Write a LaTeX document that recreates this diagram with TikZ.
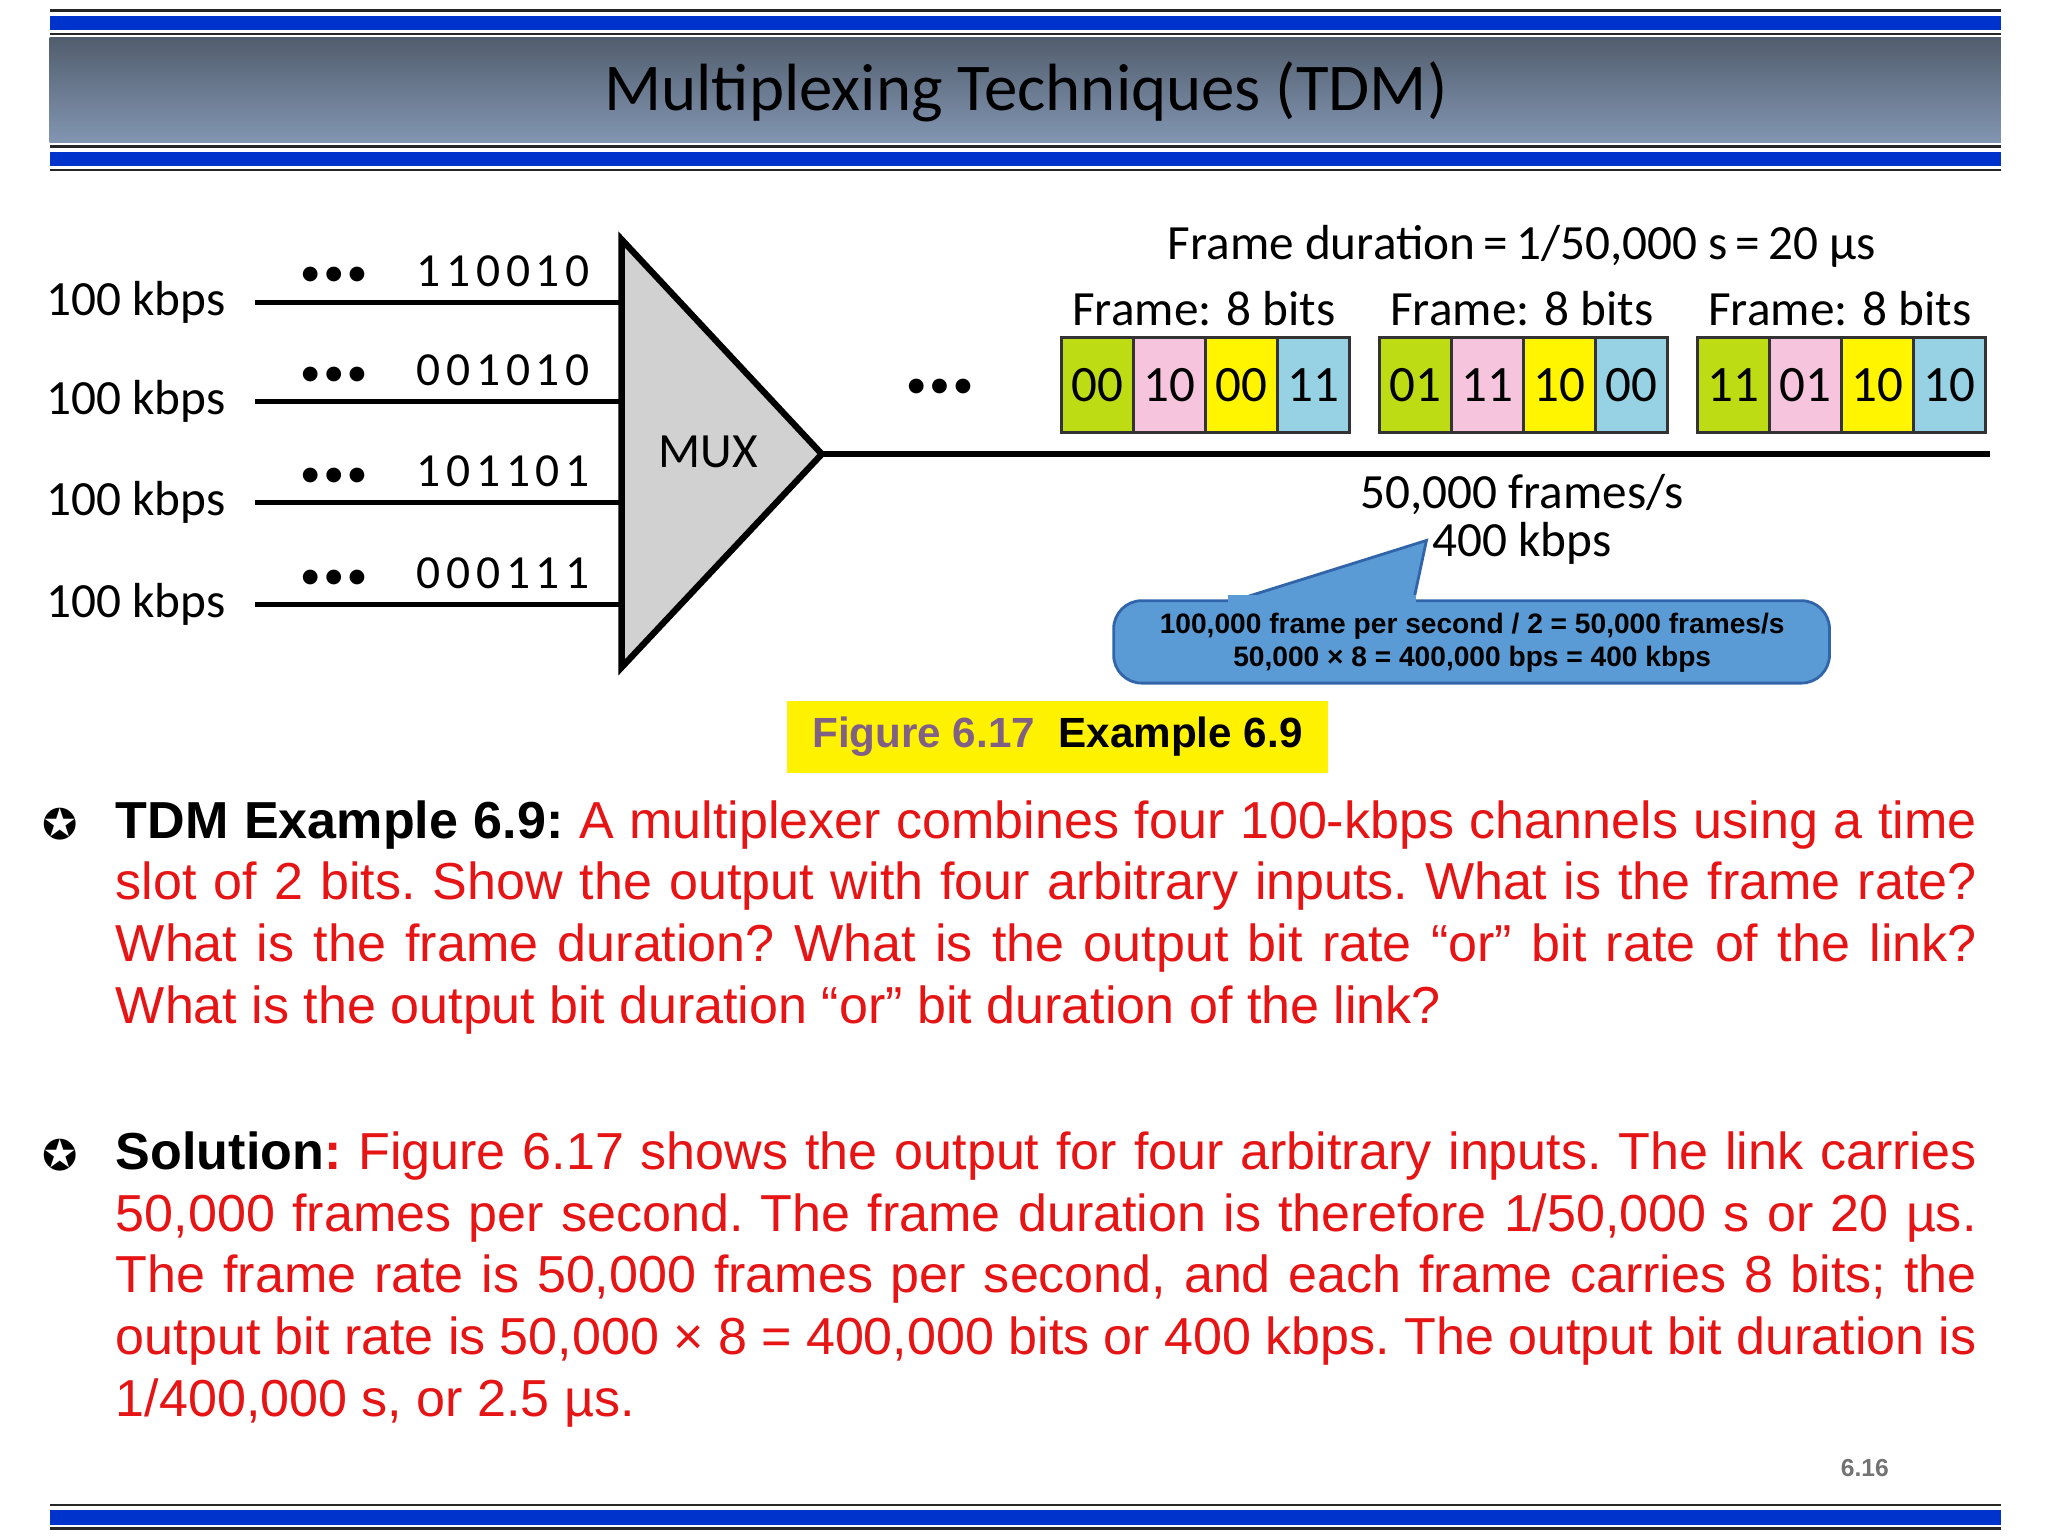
\documentclass[tikz,border=0pt]{standalone}
\usepackage{fontspec}
\setmainfont{Liberation Sans}
\newfontfamily\titlefont{Carlito}
\newfontfamily\figfont{Carlito}
\newfontfamily\bitfont[LetterSpace=12]{Carlito}
\newfontfamily\symfont{DejaVu Sans}
\definecolor{barblue}{RGB}{0,51,204}
\definecolor{gtop}{RGB}{82,94,110}
\definecolor{gbot}{RGB}{130,150,178}
\definecolor{cgreen}{RGB}{190,220,20}
\definecolor{cpink}{RGB}{246,196,220}
\definecolor{cyel}{RGB}{255,245,0}
\definecolor{ccyan}{RGB}{150,210,228}
\definecolor{callfill}{RGB}{91,155,213}
\definecolor{calldraw}{RGB}{50,100,170}
\definecolor{figpurple}{RGB}{128,96,132}
\definecolor{txtred}{RGB}{230,20,20}
\begin{document}
\begin{tikzpicture}[x=0.01308cm,y=-0.01308cm,
  lbl/.style={font=\figfont\fontsize{14}{16}\selectfont,inner sep=0},
  bits/.style={font=\bitfont\fontsize{13.5}{16}\selectfont,inner sep=0,anchor=west},
  dts/.style={font=\symfont\fontsize{5.5}{7}\selectfont,inner sep=0},
  cell/.style={draw=black!80,line width=0.9pt,minimum width=55*0.01308cm,minimum height=72*0.01308cm,inner sep=0,font=\figfont\fontsize{14.5}{16}\selectfont},
  inl/.style={line width=1.3pt}]
\useasboundingbox (0,0) rectangle (1565,1174);
\fill[white] (0,0) rectangle (1565,1174);
% header
\fill[black!85] (38,7) rectangle (1529,27);
\fill[white] (38,9) rectangle (1529,25);
\fill[barblue] (38,12) rectangle (1529,23);
\shade[top color=gtop,bottom color=gbot] (38,29) rectangle (1529,109);
\fill[black!85] (38,111) rectangle (1529,131);
\fill[white] (38,113) rectangle (1529,129);
\fill[barblue] (38,116) rectangle (1529,127);
\node[font=\titlefont\fontsize{19}{22}\selectfont,inner sep=0] (title) at (784,70) {Multiplexing Techniques (TDM)};
% footer
\fill[black!85] (38,1149) rectangle (1529,1169);
\fill[white] (38,1151) rectangle (1529,1167);
\fill[barblue] (38,1154) rectangle (1529,1165);
\node[font=\bfseries\fontsize{7}{8}\selectfont,text=black!55,inner sep=0] (pg) at (1425,1122) {6.16};
% mux
\coordinate (mt) at (475,183); \coordinate (mb) at (475,510); \coordinate (mo) at (628,347);
\filldraw[fill=black!18,draw=black,line width=1.8pt,line join=miter] (mt) -- (mo) -- (mb) -- cycle;
\node[lbl] (mux) at (541,345) {MUX};
\coordinate (oe) at (1521,347);
\draw[line width=1.8pt] (mo) -- (oe);
% inputs
\foreach \y/\b [count=\i] in {231/110010,307/001010,384/101101,462/000111}{
  \coordinate (s\i) at (195,\y); \coordinate (e\i) at (475,\y);
  \draw[inl] (s\i) -- (e\i);
  \node[lbl,anchor=east] (r\i) at (173,\y) {100 kbps};
  \node[dts] (d\i) at (255,\y-21) {●\,\,●\,\,●};
  \node[bits] (b\i) at (318,\y-24) {\b};
}
\node[dts] (odots) at (718,295) {●\,\,●\,\,●};
% frames
\node[lbl] (fd) at (1163,188) {Frame duration\,=\,1/50,000 s\,=\,20 µs};
\foreach \fx/\a/\b/\c/\d [count=\j] in {810/00/10/00/11,1053/01/11/10/00,1296/11/01/10/10}{
  \node[lbl] (fl\j) at (\fx+110,236) {Frame: 8 bits};
  \node[cell,fill=cgreen,anchor=north west] (c\j a) at (\fx,257) {\a};
  \node[cell,fill=cpink,anchor=north west] (c\j b) at (\fx+55,257) {\b};
  \node[cell,fill=cyel,anchor=north west] (c\j c) at (\fx+110,257) {\c};
  \node[cell,fill=ccyan,anchor=north west] (c\j d) at (\fx+165,257) {\d};
}
\node[lbl] (fps) at (1163,378) {50,000 frames/s};
\node[lbl] (kb) at (1163,415) {400 kbps};
% callout
\coordinate (tip) at (1090,413);
\filldraw[fill=callfill,draw=calldraw,line width=0.8pt,rounded corners=8] (851,459) rectangle (1398,522);
\filldraw[fill=callfill,draw=calldraw,line width=0.8pt] (940,460) -- (tip) -- (1080,460);
\fill[callfill] (938,455) rectangle (1082,464);
\node[align=center,font=\bfseries\fontsize{8}{9.3}\selectfont,inner sep=0] (call) at (1125,491) {100,000 frame per second / 2 = 50,000 frames/s\\50,000 × 8 = 400,000 bps = 400 kbps};
% figure label
\node[fill=yellow,minimum width=414*0.01308cm,minimum height=55*0.01308cm,inner sep=0,font=\bfseries\fontsize{12}{14}\selectfont] (fig) at (808,563) {\textcolor{figpurple}{Figure 6.17}\ \ Example 6.9};
% paragraphs
\node[font=\symfont\fontsize{12}{14}\selectfont,inner sep=0] (bul1) at (46,630) {✪};
\node[font=\symfont\fontsize{12}{14}\selectfont,inner sep=0] (bul2) at (46,883) {✪};
\node[anchor=north west,inner sep=0,text width=1422*0.01308cm,align=justify,font=\frenchspacing\fontsize{14.8}{17.6}\selectfont,text=txtred] (p1) at (88,611) {\textcolor{black}{\textbf{TDM Example 6.9:}} A multiplexer combines four 100-kbps channels using a time slot of 2 bits. Show the output with four arbitrary inputs. What is the frame rate? What is the frame duration? What is the output bit rate “or” bit rate of the link? What is the output bit duration “or” bit duration of the link?};
\node[anchor=north west,inner sep=0,text width=1422*0.01308cm,align=justify,font=\frenchspacing\fontsize{14.8}{17.6}\selectfont,text=txtred] (p2) at (88,864) {\textcolor{black}{\textbf{Solution}}\textbf{:} Figure 6.17 shows the output for four arbitrary inputs. The link carries 50,000 frames per second. The frame duration is therefore 1/50,000 s or 20 µs. The frame rate is 50,000 frames per second, and each frame carries 8 bits; the output bit rate is 50,000 × 8 = 400,000 bits or 400 kbps. The output bit duration is 1/400,000 s, or 2.5 µs.};
\end{tikzpicture}
\end{document}
